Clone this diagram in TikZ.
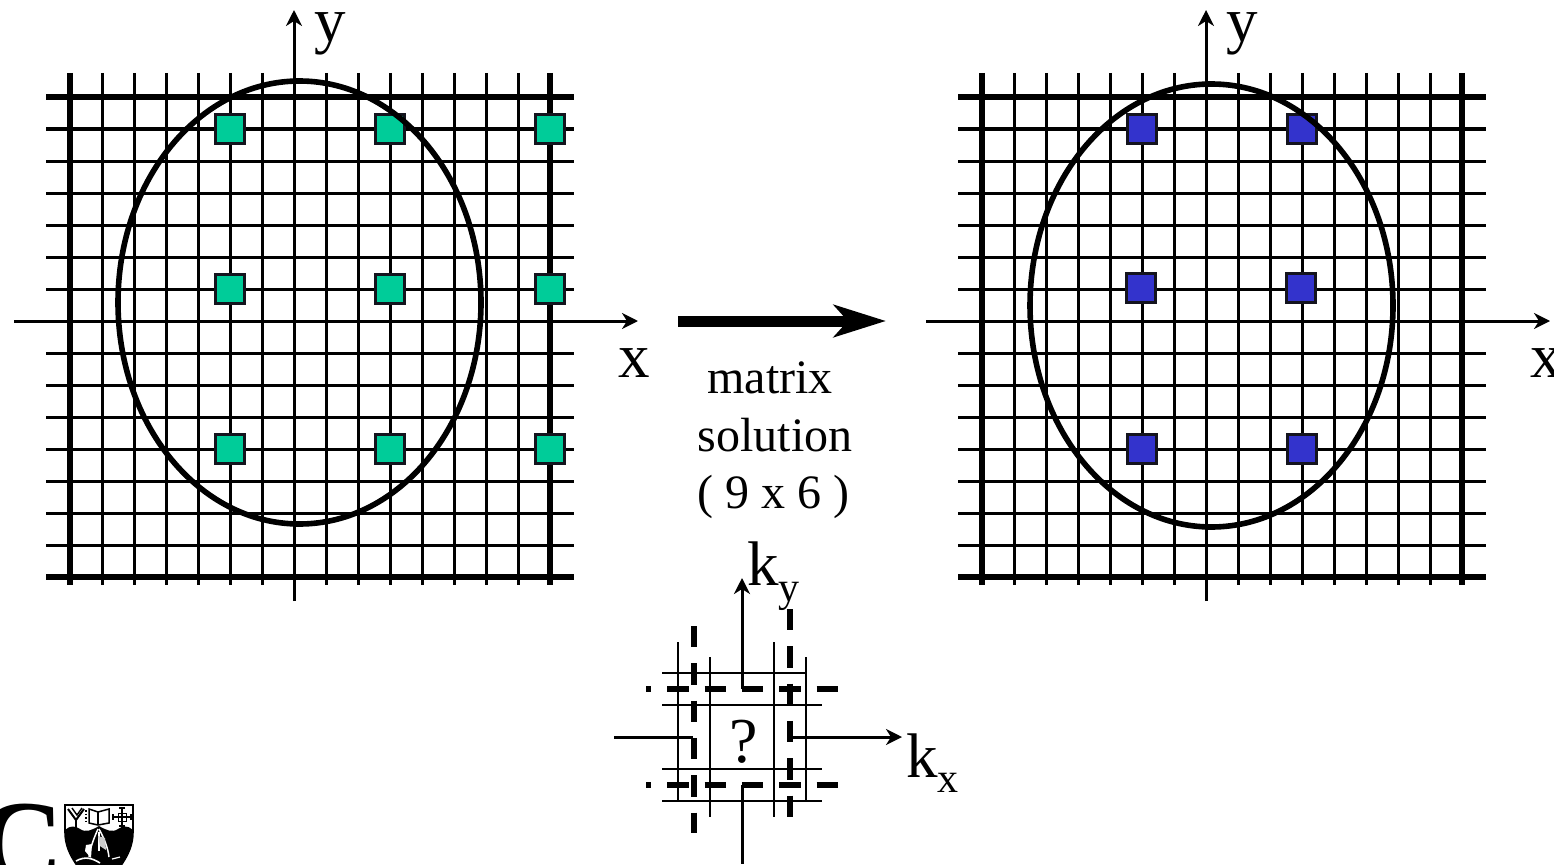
\documentclass[tikz,border=0pt]{standalone}
\usepackage{fontspec}
\setmainfont{Liberation Serif}
\usetikzlibrary{arrows.meta}
\definecolor{gridgreen}{RGB}{0,204,153}
\definecolor{gridblue}{RGB}{51,51,204}
\definecolor{sqedge}{RGB}{20,20,30}
\tikzset{
  gridthin/.style={line width=3pt},
  gridthick/.style={line width=6pt},
  oval/.style={line width=5.6pt},
  axisline/.style={line width=3pt,-{Stealth[length=16pt,width=16pt,inset=5pt]}},
  plainaxis/.style={line width=3pt},
  bigarrow/.style={line width=11pt,-{Stealth[length=52pt,width=32pt,inset=14pt]}},
  insetthin/.style={line width=2.8pt},
  insetdash/.style={line width=6pt,dash pattern=on 21.3pt off 16pt},
  sq/.style={draw=sqedge,line width=3pt,minimum size=29.5pt,inner sep=0pt,outer sep=0pt},
  biglabel/.style={font=\fontsize{63}{63}\selectfont,inner sep=0pt,anchor=base west},
  midlabel/.style={font=\fontsize{48}{48}\selectfont,inner sep=0pt,anchor=base},
}
\newcommand{\lowsub}[2]{\raisebox{#1}{\fontsize{42}{42}\selectfont #2}}
\newcommand{\gridlines}{%
  \foreach \i in {1,...,14} {\draw[gridthin] (70+32*\i,73) -- (70+32*\i,585);}
  \foreach \i in {1,2,3,4,5,6,8,9,10,11,12,13,14} {\draw[gridthin] (46,97+32*\i) -- (574,97+32*\i);}
  \draw[gridthick] (70,73) -- (70,585);
  \draw[gridthick] (550,73) -- (550,585);
  \draw[gridthick] (46,97) -- (574,97);
  \draw[gridthick] (46,577) -- (574,577);
  \coordinate (xa) at (14,321); \coordinate (xb) at (638,321);
  \coordinate (ya) at (294,601); \coordinate (yb) at (294,10);
  \draw[axisline] (xa) -- (xb);
  \draw[axisline] (ya) -- (yb);
}
\begin{document}
\begin{tikzpicture}[x=1pt,y=-1pt]
\useasboundingbox (0,0) rectangle (1554,864);
\clip (0,0) rectangle (1554,864);
\fill[white] (0,0) rectangle (1554,864);

% left panel
\begin{scope}
  \gridlines
\end{scope}
\foreach \nm/\px/\py in {a/230/129,b/390/129,c/550/129,d/230/289,e/390/289,f/550/289,g/230/449,h/390/449,i/550/449}
  {\node[sq,fill=gridgreen] (g\nm) at (\px,\py) {};}
\draw[oval] (299.5,302.5) ellipse [x radius=181.5pt,y radius=221.5pt];

% right panel
\begin{scope}[xshift=912pt]
  \gridlines
\end{scope}
\foreach \nm/\px/\py in {a/1142/129,b/1302/129,c/1141/288,d/1301/288,e/1142/449,f/1302/449}
  {\node[sq,fill=gridblue] (b\nm) at (\px,\py) {};}
\draw[oval] (1211.5,305.5) ellipse [x radius=181.5pt,y radius=221.5pt];

% axis labels
\node[biglabel] (ly) at (314,42) {y};
\node[biglabel] (lx) at (618,377) {x};
\node[biglabel] (ry) at (1226,42) {y};
\node[biglabel] (rx) at (1530,377) {x};

% big arrow and its caption
\coordinate (ba) at (678,321);
\coordinate (bb) at (886,321);
\draw[bigarrow] (ba) -- (bb);
\node[midlabel] (t1) at (770,393) {matrix};
\node[midlabel] (t2) at (775,451) {solution};
\node[midlabel] (t3) at (773,508) {( 9 x 6 )};

% inset
\draw[insetthin] (678,642) -- (678,801);
\draw[insetthin] (710,657) -- (710,817);
\draw[insetthin] (774,642) -- (774,817);
\draw[insetthin] (806,657) -- (806,801);
\draw[insetthin] (662,673) -- (806,673);
\draw[insetthin] (662,705) -- (822,705);
\draw[insetthin] (662,769) -- (822,769);
\draw[insetthin] (662,801) -- (822,801);
\draw[insetdash,dash phase=16pt] (646,689) -- (838,689);
\draw[insetdash,dash phase=16pt] (646,785) -- (838,785);
\draw[insetdash] (694,626) -- (694,833);
\draw[insetdash] (790,609) -- (790,817);
\coordinate (kya) at (742,689); \coordinate (kyb) at (742,578);
\coordinate (kyc) at (742,785); \coordinate (kyd) at (742,864);
\coordinate (kxa) at (793,737); \coordinate (kxb) at (902,737);
\coordinate (kxc) at (614,737); \coordinate (kxd) at (693,737);
\draw[axisline] (kya) -- (kyb);
\draw[plainaxis] (kyc) -- (kyd);
\draw[axisline] (kxa) -- (kxb);
\draw[plainaxis] (kxc) -- (kxd);
\node[biglabel] (ky) at (747,585) {k\lowsub{-16pt}{y}};
\node[biglabel] (kx) at (906,777) {k\lowsub{-15pt}{x}};
\node[font=\fontsize{64}{64}\selectfont,inner sep=0pt,anchor=base] (qm) at (744,762) {?};

% logo
\node[font=\fontsize{120}{120}\selectfont\bfseries,inner sep=0pt,anchor=base west] (logoc) at (-23,883) {C};
\draw[line width=1.6pt,fill=white] (65,805) -- (133,805) -- (133,832) .. controls (133,845) and (128,855) .. (122,864) -- (76,864) .. controls (70,855) and (65,845) .. (65,832) -- cycle;
\fill[black] (65,830) .. controls (70,825) and (76,826) .. (80,829) .. controls (86,833) and (92,830) .. (99,826) .. controls (106,830) and (112,833) .. (118,829) .. controls (122,826) and (128,825) .. (133,830) -- (133,832) .. controls (133,845) and (128,855) .. (122,864) -- (76,864) .. controls (70,855) and (65,845) .. (65,832) -- cycle;
% mitre-like Y
\draw[line width=2pt] (68,809) -- (76,820) -- (84,809);
\draw[line width=1.4pt] (72,808) -- (77,815) -- (82,808);
\draw[line width=2.4pt] (76,819) -- (76,828);
% book
\draw[line width=1.5pt] (89,809) -- (98,812) -- (109,809) -- (109,823) -- (98,825) -- (89,823) -- cycle;
\draw[line width=1.3pt] (98,812) -- (98,825);
\draw[line width=1.5pt,dash pattern=on 1.5pt off 2pt] (86,810) -- (86,823);
% cross
\draw[line width=1.2pt] (112,817) -- (132,817);
\draw[line width=1.2pt] (122,807) -- (122,827);
\draw[line width=1.2pt] (119,808) -- (125,808) (119,826) -- (125,826) (113,814) -- (113,820) (131,814) -- (131,820);
\draw[line width=1pt] (118,813) rectangle (126,821);
% lower figure
\draw[white,line width=1.5pt] (98,829) .. controls (94,838) and (90,848) .. (89,857);
\draw[white,line width=1.5pt] (99,829) .. controls (104,838) and (108,848) .. (109,857);
\draw[white,line width=1.5pt] (99,832) -- (99,851);
\fill[white] (86,845) -- (92,844) -- (91,858) -- (85,851) -- cycle;
\fill[white!80!black] (98,836) -- (105,838) -- (106,850) -- (100,846) -- cycle;
\draw[white,line width=1.6pt] (76,861) .. controls (85,856) and (92,858) .. (100,863);
\draw[white,line width=1.2pt] (112,859) -- (120,857);
\end{tikzpicture}
\end{document}
